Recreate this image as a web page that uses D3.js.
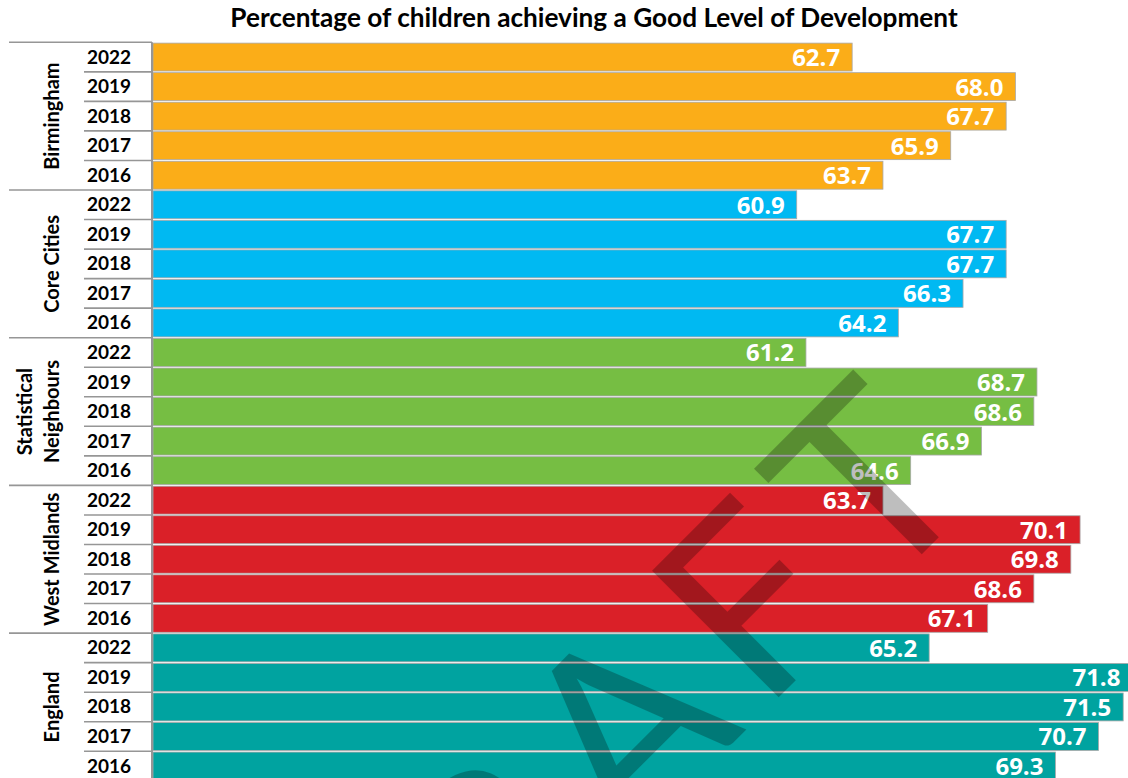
<!DOCTYPE html>
<html>
<head>
<meta charset="utf-8">
<script src="https://cdn.jsdelivr.net/npm/d3@7"></script>
<style>
	html, body { margin: 0; padding: 0; background: #fff; overflow: hidden; }
	.title { font-family: Lato, sans-serif; font-weight: 700; font-size: 26.2px; fill: #000; }
	.year-label { font-family: Lato, sans-serif; font-weight: 700; font-size: 19px; fill: #000; }
	.group-label { font-family: Lato, sans-serif; font-weight: 700; font-size: 20px; fill: #000; }
	.value-label { font-family: 'Open Sans', sans-serif; font-weight: 700; font-size: 24px; fill: #fff; }
	.watermark { font-family: Lato, sans-serif; font-size: 250px; letter-spacing: 22px; fill: #000; opacity: 0.25; }
</style>
</head>
<body>
<div id="chart"></div>
<script>
const groups = ['Birmingham', 'Core Cities', 'Statistical Neighbours', 'West Midlands', 'England'];
const years = ['2022', '2019', '2018', '2017', '2016'];
const birmingham = [62.7, 68.0, 67.7, 65.9, 63.7];
const coreCities = [60.9, 67.7, 67.7, 66.3, 64.2];
const statNeighbours = [61.2, 68.7, 68.6, 66.9, 64.6];
const westMidlands = [63.7, 70.1, 69.8, 68.6, 67.1];
const england = [65.2, 71.8, 71.5, 70.7, 69.3];
const groupColors = ['#fbad18', '#00b9f2', '#76be43', '#da2028', '#00a3a0'];
const groupLines = [['Birmingham'], ['Core Cities'], ['Statistical', 'Neighbours'], ['West Midlands'], ['England']];

(() => {
	const width = 1128;
	const height = 778;
	const series = [birmingham, coreCities, statNeighbours, westMidlands, england];

	// flatten into one row per group/year
	const rows = [];
	groups.forEach((g, gi) => {
		years.forEach((yr, yi) => {
			rows.push({ key: `${g}-${yr}`, group: g, gi: gi, yi: yi, year: yr, value: series[gi][yi] });
		});
	});

	const svg = d3.select('#chart').append('svg')
		.attr('width', width)
		.attr('height', height);

	const axisX = 152;
	const rowStep = 29.54;
	const top = 42.3;

	const x = d3.scaleLinear()
		.domain([40, 75])
		.range([axisX + 1, axisX + 1 + 35 * 30.8]);
	const y = d3.scaleBand()
		.domain(rows.map(d => d.key))
		.range([top, top + rows.length * rowStep])
		.paddingInner(0.055)
		.paddingOuter(0.0275);

	// title
	svg.append('text')
		.attr('class', 'title')
		.attr('x', 594)
		.attr('y', 27)
		.attr('text-anchor', 'middle')
		.text('Percentage of children achieving a Good Level of Development');

	// bars
	svg.selectAll('.bar')
		.data(rows)
		.enter().append('rect')
			.attr('class', 'bar')
			.attr('x', x(40))
			.attr('y', d => y(d.key))
			.attr('width', d => x(d.value) - x(40))
			.attr('height', y.bandwidth())
			.style('fill', d => groupColors[d.gi])
			.style('stroke', '#a8a8a8')
			.style('stroke-width', 0.8);

	// value labels
	svg.selectAll('.value-label')
		.data(rows)
		.enter().append('text')
			.attr('class', 'value-label')
			.attr('x', d => x(d.value) - 12)
			.attr('y', d => y(d.key) + y.bandwidth() / 2 + 9)
			.attr('text-anchor', 'end')
			.text(d => d.value.toFixed(1));

	// left category axis: year labels and separators
	const bandTop = i => top + i * rowStep;
	svg.selectAll('.year-label')
		.data(rows)
		.enter().append('text')
			.attr('class', 'year-label')
			.attr('x', 87)
			.attr('y', d => y(d.key) + y.bandwidth() / 2 + 6.5)
			.text(d => d.year);

	const lineColor = '#969696';
	svg.selectAll('.year-tick')
		.data(rows.filter(d => d.yi > 0))
		.enter().append('line')
			.attr('class', 'year-tick')
			.attr('x1', 84)
			.attr('x2', axisX)
			.attr('y1', d => bandTop(rows.indexOf(d)))
			.attr('y2', d => bandTop(rows.indexOf(d)))
			.style('stroke', lineColor)
			.style('stroke-width', 1.6);
	svg.selectAll('.group-tick')
		.data(d3.range(groups.length + 1))
		.enter().append('line')
			.attr('class', 'group-tick')
			.attr('x1', 9)
			.attr('x2', axisX)
			.attr('y1', i => bandTop(i * years.length))
			.attr('y2', i => bandTop(i * years.length))
			.style('stroke', lineColor)
			.style('stroke-width', 1.6);
	svg.append('line')
		.attr('x1', axisX)
		.attr('x2', axisX)
		.attr('y1', top)
		.attr('y2', height)
		.style('stroke', lineColor)
		.style('stroke-width', 2);

	// group labels, rotated
	groupLines.forEach((lines, gi) => {
		const cy = (bandTop(gi * years.length) + bandTop((gi + 1) * years.length)) / 2;
		lines.forEach((line, li) => {
			const bx = 59 - (lines.length - 1 - li) * 27;
			svg.append('text')
				.attr('class', 'group-label')
				.attr('text-anchor', 'middle')
				.attr('transform', `translate(${bx}, ${cy}) rotate(-90)`)
				.text(line);
		});
	});

	// draft watermark on top
	svg.append('text')
		.attr('class', 'watermark')
		.attr('text-anchor', 'end')
		.attr('transform', 'translate(998, 478) rotate(-45)')
		.text('DRAFT');
})();
</script>
</body>
</html>
